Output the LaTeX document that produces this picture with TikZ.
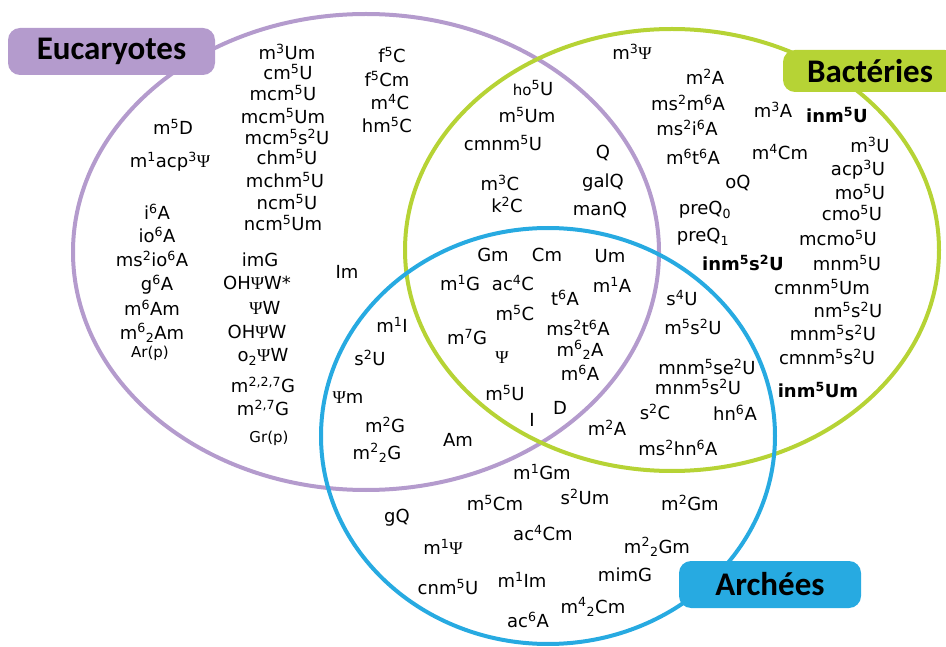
\documentclass[tikz,border=0pt]{standalone}
\usepackage{fontspec}
\setmainfont{DejaVu Sans}
\newfontfamily\titlefont{Carlito}
\newfontfamily\greekfont{Liberation Serif}
\usepackage{tikz}
\usetikzlibrary{positioning}

\definecolor{eukc}{HTML}{B49BCD}
\definecolor{bacc}{HTML}{B6D335}
\definecolor{arcc}{HTML}{27AAE1}

\newcommand\ups[1]{\textsuperscript{#1}}
\newcommand\dns[1]{\textsubscript{#1}}
\newcommand\pSi{{\greekfont Ψ}}
\newcommand\smf{\fontsize{15}{17}\selectfont}

\begin{document}
\begin{tikzpicture}[x=1pt,y=-1pt,
      md/.style={inner sep=1pt,font=\fontsize{18}{20}\selectfont},
      tag/.style={rounded corners=12pt,inner sep=0pt,
        font=\titlefont\bfseries\fontsize{33}{36}\selectfont}]
    \useasboundingbox (0,0) rectangle (946,647);
    % the three domains
    \draw[eukc,line width=4pt] (366,252) ellipse [x radius=293pt,y radius=238pt];
    \draw[bacc,line width=4pt] (672,250) ellipse [x radius=267pt,y radius=221pt];
    \draw[arcc,line width=4pt] (548,436) ellipse [x radius=227pt,y radius=208pt];
    \node[tag,fill=eukc,minimum width=207pt,minimum height=47pt] (euk) at (111.5,51.5) {Eucaryotes};
    \node[tag,fill=bacc,minimum width=174pt,minimum height=42pt] (bac) at (870,71) {Bactéries};
    \node[tag,fill=arcc,minimum width=182pt,minimum height=47pt] (arc) at (770,584.5) {Archées};
    % eucaryotes only
    \foreach [count=\i] \x/\y/\lbl in {173/127/m\ups{5}D, 170/162/m\ups{1}acp\ups{3}\pSi,
        157/212/i\ups{6}A, 157/235/io\ups{6}A, 152/259/ms\ups{2}io\ups{6}A, 157/285/g\ups{6}A,
        152/308/m\ups{6}Am, 152/333/m\ups{6}\dns{2}Am, 150/353/{\smf Ar(p)},
        287/52/m\ups{3}Um, 288/72/cm\ups{5}U, 283/93/mcm\ups{5}U, 283/116/mcm\ups{5}Um,
        287/137/mcm\ups{5}s\ups{2}U, 287/157/chm\ups{5}U, 285/180/mchm\ups{5}U,
        287/202/ncm\ups{5}U, 283/223/ncm\ups{5}Um,
        392/55/f\ups{5}C, 387/79/f\ups{5}Cm, 390/102/m\ups{4}C, 387/125/hm\ups{5}C,
        260/260/imG, 257/283/OH\pSi W*, 265/308/\pSi W, 257/332/OH\pSi W, 263/357/o\dns{2}\pSi W,
        263/385/m\ups{2,2,7}G, 263/408/m\ups{2,7}G, 269/438/{\smf Gr(p)}, 347/272/Im}
      \node[md] (e\i) at (\x,\y) {\lbl};
    % eucaryotes and bacteria
    \foreach [count=\i] \x/\y/\lbl in {533/88/{\smf ho}\ups{5}U, 527/115/m\ups{5}Um,
        503/143/cmnm\ups{5}U, 500/183/m\ups{3}C, 507/205/k\ups{2}C,
        603/153/Q, 603/183/galQ, 600/210/manQ}
      \node[md] (eb\i) at (\x,\y) {\lbl};
    % bacteria only
    \foreach [count=\i] \x/\y/\lbl in {632/52/m\ups{3}\pSi, 705/77/m\ups{2}A,
        688/103/ms\ups{2}m\ups{6}A, 687/128/ms\ups{2}i\ups{6}A, 693/157/m\ups{6}t\ups{6}A,
        773/110/m\ups{3}A, 837/115/\textbf{inm\ups{5}U}, 780/152/m\ups{4}Cm,
        870/145/m\ups{3}U, 858/170/acp\ups{3}U, 860/192/mo\ups{5}U, 852/213/cmo\ups{5}U,
        838/238/mcmo\ups{5}U, 738/183/oQ, 705/210/preQ\dns{0}, 703/237/preQ\dns{1},
        743/263/\textbf{inm\ups{5}s\ups{2}U}, 847/263/mnm\ups{5}U, 822/287/cmnm\ups{5}Um,
        848/310/nm\ups{5}s\ups{2}U, 833/333/mnm\ups{5}s\ups{2}U, 827/357/cmnm\ups{5}s\ups{2}U,
        818/390/\textbf{inm\ups{5}Um}}
      \node[md] (b\i) at (\x,\y) {\lbl};
    % bacteria and archaea
    \foreach [count=\i] \x/\y/\lbl in {682/298/s\ups{4}U, 693/327/m\ups{5}s\ups{2}U,
        707/367/mnm\ups{5}se\ups{2}U, 698/387/mnm\ups{5}s\ups{2}U, 655/412/s\ups{2}C,
        735/413/hn\ups{6}A, 678/448/ms\ups{2}hn\ups{6}A, 607/428/m\ups{2}A}
      \node[md] (ba\i) at (\x,\y) {\lbl};
    % shared by all three
    \foreach [count=\i] \x/\y/\lbl in {493/255/Gm, 547/255/Cm, 610/256/Um, 460/283/m\ups{1}G,
        513/283/ac\ups{4}C, 565/298/t\ups{6}A, 612/285/m\ups{1}A, 515/313/m\ups{5}C,
        467/337/m\ups{7}G, 578/328/ms\ups{2}t\ups{6}A, 580/350/m\ups{6}\dns{2}A,
        580/373/m\ups{6}A, 502/358/\pSi, 505/393/m\ups{5}U, 532/420/I, 560/408/D}
      \node[md] (all\i) at (\x,\y) {\lbl};
    % eucaryotes and archaea
    \foreach [count=\i] \x/\y/\lbl in {392/325/m\ups{1}I, 370/358/s\ups{2}U, 348/398/\pSi m,
        385/425/m\ups{2}G, 377/453/m\ups{2}\dns{2}G, 458/440/Am}
      \node[md] (ea\i) at (\x,\y) {\lbl};
    % archaea only
    \foreach [count=\i] \x/\y/\lbl in {542/472/m\ups{1}Gm, 495/503/m\ups{5}Cm,
        585/497/s\ups{2}Um, 690/503/m\ups{2}Gm, 397/518/gQ, 543/533/ac\ups{4}Cm,
        443/547/m\ups{1}\pSi, 657/547/m\ups{2}\dns{2}Gm, 625/575/mimG, 448/587/cnm\ups{5}U,
        522/580/m\ups{1}Im, 593/607/m\ups{4}\dns{2}Cm, 528/620/ac\ups{6}A}
      \node[md] (a\i) at (\x,\y) {\lbl};
  \end{tikzpicture}
\end{document}
